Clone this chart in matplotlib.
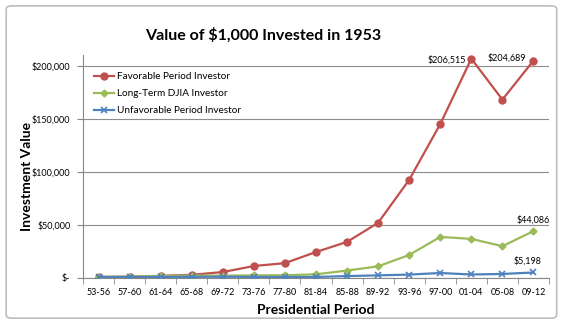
import matplotlib.pyplot as plt
from matplotlib.patches import FancyBboxPatch
from matplotlib.ticker import FuncFormatter

periods = ["53-56", "57-60", "61-64", "65-68", "69-72", "73-76", "77-80", "81-84",
           "85-88", "89-92", "93-96", "97-00", "01-04", "05-08", "09-12"]
favorable = [1000, 1200, 2000, 3000, 5600, 11300, 14000, 24500,
             34000, 52000, 92500, 145000, 206515, 168000, 204689]
long_term = [1000, 1300, 1900, 2300, 2200, 2500, 2600, 3500,
             7000, 11000, 21700, 38700, 36800, 30000, 44086]
unfavorable = [1000, 900, 1000, 1100, 1200, 1000, 900, 1000,
               1800, 2500, 3200, 4700, 3300, 3800, 5198]

RED, GREEN, BLUE = "#C0504D", "#9BBB59", "#4F81BD"
plt.rcParams["font.family"] = ["Lato", "DejaVu Sans"]

fig = plt.figure(figsize=(5.64, 3.27), dpi=100)
ax = fig.add_axes([83 / 564, 1 - 278 / 327, 466 / 564, 223 / 327])

# chart frame
fig.patches.append(FancyBboxPatch((0.011, 0.027), 0.976, 0.955, transform=fig.transFigure,
                                  boxstyle="round,pad=0,rounding_size=0.01",
                                  fc="none", ec="#bdbdbd", lw=1.2))

x = range(len(periods))
ax.plot(x, favorable, color=RED, lw=1.6, marker="o", ms=5, label="Favorable Period Investor", zorder=3)
ax.plot(x, long_term, color=GREEN, lw=1.6, marker="D", ms=3.5, label="Long-Term DJIA Investor", zorder=3)
ax.plot(x, unfavorable, color=BLUE, lw=1.6, marker="x", ms=4, mew=1.2, label="Unfavorable Period Investor", zorder=3)

ax.set_xlim(-0.5, len(periods) - 0.5)
ax.set_ylim(0, 210000)
ax.set_yticks([0, 50000, 100000, 150000, 200000])
ax.yaxis.set_major_formatter(FuncFormatter(lambda v, p: "$-" if v == 0 else f"${v:,.0f}"))
ax.set_xticks(list(x))
ax.set_xticklabels(periods)
ax.set_xticks([i - 0.5 for i in range(len(periods) + 1)], minor=True)
ax.tick_params(axis="x", which="major", length=0, labelsize=6.5, pad=7)
ax.tick_params(axis="x", which="minor", length=4, color="#888888")
ax.tick_params(axis="y", length=4, color="#888888", labelsize=6.5, pad=5)
ax.grid(axis="y", color="#8c8c8c", lw=0.8)
ax.set_axisbelow(True)
for s in ["top", "right"]:
    ax.spines[s].set_visible(False)
for s in ["left", "bottom"]:
    ax.spines[s].set_color("#888888")

ax.set_xlabel("Presidential Period", fontsize=10, fontweight="bold", labelpad=5)
fig.text(27 / 564, 1 - 176 / 327, "Investment Value", rotation=90, ha="center", va="center",
         fontsize=10, fontweight="bold")
fig.text(263 / 564, 1 - 35 / 327, "Value of $1,000 Invested in 1953", ha="center", va="center",
         fontsize=11.5, fontweight="bold")

# data labels
ax.annotate(f"${favorable[12]:,}", (12, favorable[12]), xytext=(-4, -1), textcoords="offset points",
            ha="right", va="center", fontsize=6.5)
ax.annotate(f"${favorable[14]:,}", (14, favorable[14]), xytext=(-5, 2), textcoords="offset points",
            ha="right", va="center", fontsize=6.5)
ax.annotate(f"${long_term[14]:,}", (14, long_term[14]), xytext=(0, 8), textcoords="offset points",
            ha="center", va="center", fontsize=6.5)
ax.annotate(f"${unfavorable[14]:,}", (14, unfavorable[14]), xytext=(-4, 8), textcoords="offset points",
            ha="center", va="center", fontsize=6.5)

ax.legend(loc="upper left", bbox_to_anchor=(0.015, 0.94), frameon=False, fontsize=7.2,
          handlelength=2.0, handletextpad=0.3, labelspacing=0.8, borderaxespad=0)

fig.savefig("out.png", dpi=100)
